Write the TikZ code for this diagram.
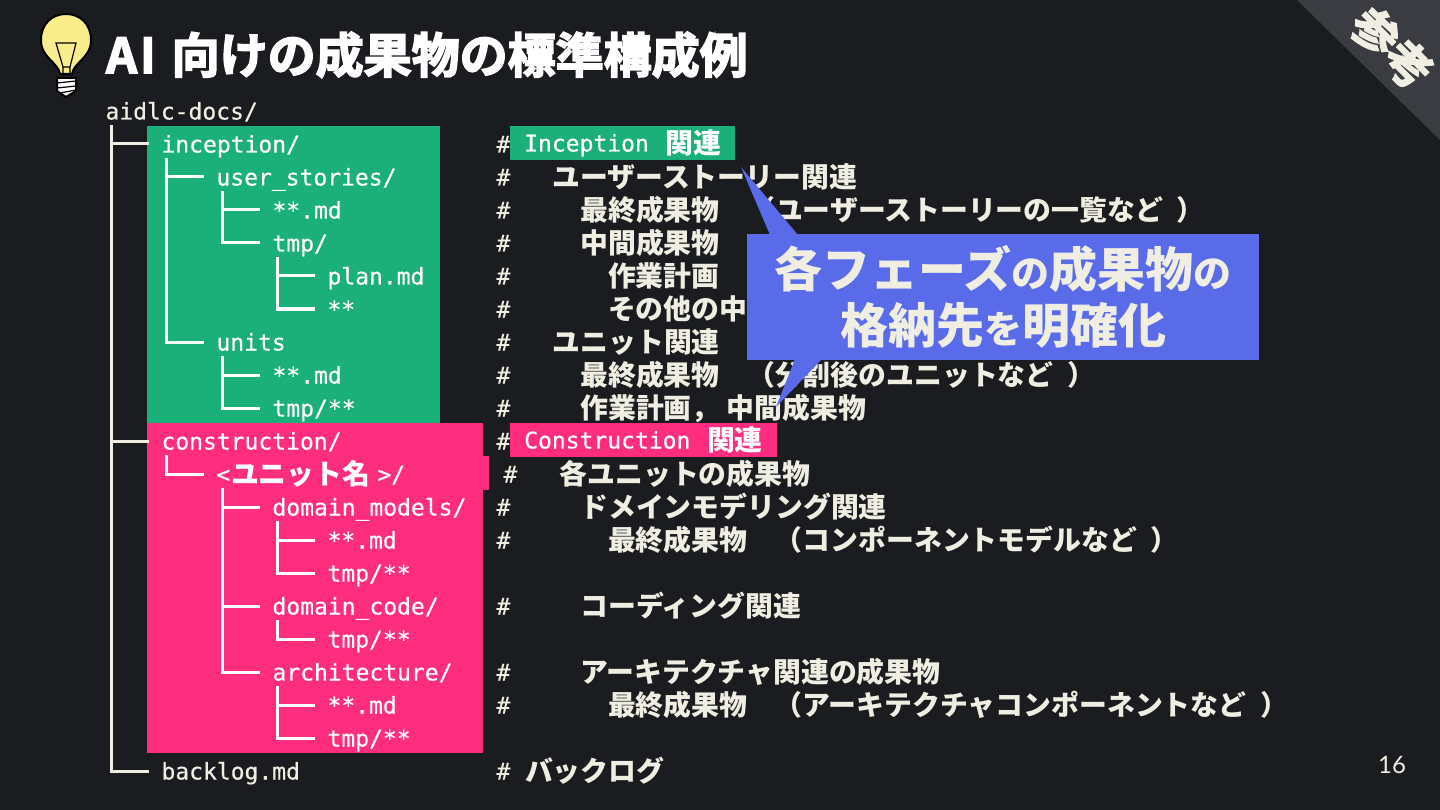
\documentclass[tikz,border=0pt]{standalone}
\usepackage{fontspec}
\setmonofont[FakeBold=0.4]{DejaVu Sans Mono}
\newfontfamily\jafont{Noto Sans CJK JP}
\newfontfamily\jaheavy[FakeBold=3.4]{Noto Sans CJK JP Bold}
\newfontfamily\pagefont{Lato}
\usepackage{xcolor}
\usepackage{tikz}
\usetikzlibrary{calc}
\definecolor{slideK}{RGB}{26,28,31}
\definecolor{creamW}{RGB}{240,238,226}
\definecolor{incG}{RGB}{27,176,121}
\definecolor{conP}{RGB}{255,45,125}
\definecolor{noteB}{RGB}{90,107,234}
\definecolor{cornerG}{RGB}{58,60,66}
\definecolor{bulbY}{RGB}{250,238,140}
\newcommand{\ja}[1]{\hspace{0.8pt}\raisebox{-2pt}{\jafont\bfseries\fontsize{27.85}{30}\selectfont #1}}
\newcommand{\gap}{\hspace{13.8pt}}
\newcommand{\bigja}[1]{{\fontsize{48}{56}\selectfont #1}}
\newcommand{\smallja}[1]{{\fontsize{38}{56}\selectfont #1}}
\newcommand{\treeedge}[3][white]{\draw[treeline, draw=#1] ([xshift=-49.5pt]#3.west |- #2.south) |- ([xshift=-12pt]#3.west);}

\begin{document}
\begin{tikzpicture}[
  x=1pt, y=-1pt,
  base/.style={inner sep=0pt, anchor=west, xshift=-0.7pt, font=\ttfamily\fontsize{23}{28}\selectfont, text height=17pt, text depth=0pt, minimum height=28pt},
  file/.style={base, text=white},
  plainfile/.style={base, text=creamW},
  note/.style={base, text=creamW},
  tag/.style={base, text=white, minimum height=34pt, inner xsep=14pt},
  treeline/.style={line width=3pt},
  callout/.style={fill=noteB, text=creamW, align=center, font=\jafont\bfseries\fontsize{48}{56}\selectfont, minimum width=512pt, minimum height=126pt, inner sep=0pt}
]
\useasboundingbox (0,0) rectangle (1440,810);
\fill[slideK] (0,0) rectangle (1440,810);
\fill[cornerG] (1297,0) -- (1440,0) -- (1440,140) -- cycle;
\node[text=creamW, rotate=-45, font=\jaheavy\fontsize{46}{50}\selectfont, inner sep=0pt] (corner) at (1392,48) {参考};

% light bulb
\draw[black, fill=bulbY, line width=2pt] (60,74) .. controls (58,62) and (41,58) .. (41,40) .. controls (41,24) and (52,14) .. (66,14) .. controls (80,14) and (91,24) .. (91,40) .. controls (91,58) and (74,62) .. (72,74) -- cycle;
\draw[black, line width=1.2pt] (63,74) -- (63,67) -- (56,43) -- (76,43) -- (70,67) -- (70,74) (63,67) -- (70,67);
\draw[black, fill=white, line width=2pt] (57,78) -- (76,78) -- (76,91) -- (66,97) -- (57,91) -- cycle;
\draw[black, line width=1.2pt] (57,83) -- (76,81) (57,88) -- (76,86) (60,93) -- (76,90);

\node[text=white, inner sep=0pt, anchor=base west, font=\jaheavy\fontsize{48}{50}\selectfont] (title) at (106,73) {A\hspace{3pt}I\hspace{5pt} 向けの成果物の標準構成例};

% coloured blocks
\fill[incG] (147,126) rectangle (440,423);
\fill[conP] (147,423) rectangle (483,753);
\fill[conP] (147,456) rectangle (489,490);

% tree
\node[plainfile] (docs) at (106,111) {aidlc-docs/};
\node[file] (inception) at (162,144) {inception/};
\node[file] (stories) at (217,177) {user\_stories/};
\node[file] (storymd) at (273,210) {**.md};
\node[file] (storytmp) at (273,243) {tmp/};
\node[file] (plan) at (328,276) {plan.md};
\node[file] (planrest) at (328,309) {**};
\node[file] (units) at (217,342) {units};
\node[file] (unitmd) at (273,375) {**.md};
\node[file] (unittmp) at (273,408) {tmp/**};
\node[file] (construction) at (162,441) {construction/};
\node[file] (unitname) at (217,474) {<\ja{ユニット名}\hspace{7pt}>/};
\node[file] (models) at (273,507) {domain\_models/};
\node[file] (modelmd) at (328,540) {**.md};
\node[file] (modeltmp) at (328,573) {tmp/**};
\node[file] (code) at (273,606) {domain\_code/};
\node[file] (codetmp) at (328,639) {tmp/**};
\node[file] (arch) at (273,672) {architecture/};
\node[file] (archmd) at (328,705) {**.md};
\node[file] (archtmp) at (328,738) {tmp/**};
\node[plainfile] (backlog) at (162,771) {backlog.md};

\treeedge[creamW]{docs}{inception}
\treeedge{inception}{stories}
\treeedge{stories}{storymd}
\treeedge{stories}{storytmp}
\treeedge{storytmp}{plan}
\treeedge{storytmp}{planrest}
\treeedge{inception}{units}
\treeedge{units}{unitmd}
\treeedge{units}{unittmp}
\treeedge[creamW]{docs}{construction}
\treeedge{construction}{unitname}
\treeedge{unitname}{models}
\treeedge{models}{modelmd}
\treeedge{models}{modeltmp}
\treeedge{unitname}{code}
\treeedge{code}{codetmp}
\treeedge{unitname}{arch}
\treeedge{arch}{archmd}
\treeedge{arch}{archtmp}
\treeedge[creamW]{docs}{backlog}

% comments
\node[note] (hashinc) at (497,144) {\#};
\node[tag, fill=incG] (inctag) at (510.7,143) {Inception\ \hspace{2pt}\ja{関連}\hspace{8pt}};
\node[note] (c1) at (497,177) {\#\ \ \ \ja{ユーザーストーリー関連}};
\node[note] (c2) at (497,210) {\#\ \ \ \ \ \ja{最終成果物\gap\gap （ユーザーストーリーの一覧など\gap ）}};
\node[note] (c3) at (497,243) {\#\ \ \ \ \ \ja{中間成果物}};
\node[note] (c4) at (497,276) {\#\ \ \ \ \ \ \ \ja{作業計画}};
\node[note] (c5) at (497,309) {\#\ \ \ \ \ \ \ \ja{その他の中}};
\node[note] (c6) at (497,342) {\#\ \ \ \ja{ユニット関連}};
\node[note] (c7) at (497,375) {\#\ \ \ \ \ \ja{最終成果物\gap\gap （分割後のユニットなど\gap ）}};
\node[note] (c8) at (497,408) {\#\ \ \ \ \ \ja{作業計画，\hspace{7pt}中間成果物}};
\node[note] (hashcon) at (497,441) {\#};
\node[tag, fill=conP] (contag) at (510.7,440) {Construction\ \hspace{2pt}\ja{関連}\hspace{8pt}};
\node[note] (c9) at (504,474) {\#\ \ \ \ja{各ユニットの成果物}};
\node[note] (c10) at (497,507) {\#\ \ \ \ \ \ja{ドメインモデリング関連}};
\node[note] (c11) at (497,540) {\#\ \ \ \ \ \ \ \ja{最終成果物\gap\gap （コンポーネントモデルなど\gap ）}};
\node[note] (c12) at (497,606) {\#\ \ \ \ \ \ja{コーディング関連}};
\node[note] (c13) at (497,672) {\#\ \ \ \ \ \ja{アーキテクチャ関連の成果物}};
\node[note] (c14) at (497,705) {\#\ \ \ \ \ \ \ \ja{最終成果物\gap\gap （アーキテクチャコンポーネントなど\gap ）}};
\node[note] (c15) at (497,771) {\#\ \ja{バックログ}};

% callout
\fill[noteB] (741,167) -- (770,235) -- (798,235) -- cycle;
\fill[noteB] (776,407) -- (795,359) -- (822,359) -- cycle;
\node[callout] (msg) at (1003,297) {\bigja{各フェーズ}\smallja{の}\bigja{成果物}\smallja{の}\\\bigja{格納先}\smallja{を}\bigja{明確化}};

\node[text=creamW, inner sep=0pt, font=\pagefont\fontsize{24}{28}\selectfont] (pagenum) at (1392,765) {16};
\end{tikzpicture}
\end{document}
